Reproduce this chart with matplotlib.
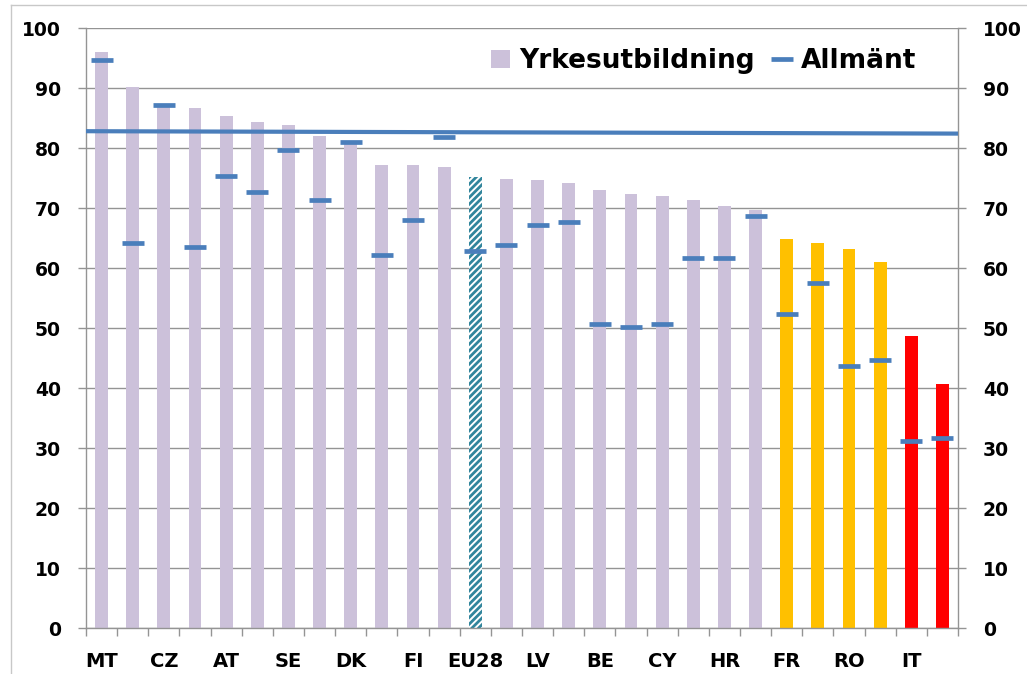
import matplotlib
matplotlib.use("Agg")
import matplotlib.pyplot as plt
from matplotlib.lines import Line2D
import numpy as np

# ---- data ----
categories = ["MT", "", "CZ", "", "AT", "", "SE", "", "DK", "", "FI", "", "EU28", "",
              "LV", "", "BE", "", "CY", "", "HR", "", "FR", "", "RO", "", "IT", ""]
yrkes = [96.0, 90.1, 87.0, 86.6, 85.4, 84.4, 83.9, 82.0, 81.0, 77.1, 77.1, 76.9, 75.2, 74.8,
         74.7, 74.2, 73.0, 72.3, 72.0, 71.4, 70.3, 69.7, 64.8, 64.2, 63.2, 61.0, 48.7, 40.7]
allmant = [94.7, 64.2, 87.2, 63.5, 75.4, 72.7, 79.7, 71.3, 81.0, 62.2, 68.0, 81.9, 62.9, 63.9,
           67.2, 67.7, 50.7, 50.2, 50.7, 61.7, 61.7, 68.6, 52.3, 57.5, 43.7, 44.7, 31.2, 31.7]
benchmark = [82.8, 82.4]   # line value at left and right end
bar_groups = ["base"] * 12 + ["eu"] + ["base"] * 9 + ["mid"] * 4 + ["low"] * 2
y_ticks = [0, 10, 20, 30, 40, 50, 60, 70, 80, 90, 100]

group_colors = {"base": "#CCC1DA", "eu": "white", "mid": "#FFC000", "low": "#FF0000"}
line_blue = "#4A7EBB"
grid_gray = "#949494"

plt.rcParams["hatch.linewidth"] = 2.0

fig = plt.figure(figsize=(10.27, 6.74), dpi=100)
ax = fig.add_axes([86 / 1027, 1 - 628 / 674, (958 - 86) / 1027, (628 - 28) / 674])

x = np.arange(len(categories))
bars = ax.bar(x, yrkes, width=0.41, color=[group_colors[g] for g in bar_groups],
              linewidth=0, zorder=2, label="Yrkesutbildning")
for b, g in zip(bars, bar_groups):
    if g == "eu":
        b.set_hatch("/////")
        b.set_edgecolor("#31859C")
        b.set_linewidth(0)

ax.set_xlim(-0.5, len(categories) - 0.5)
ax.set_ylim(0, 100)

ax.plot(ax.get_xlim(), benchmark, color=line_blue, lw=3.0, zorder=3, solid_capstyle="butt")
marks, = ax.plot(x, allmant, linestyle="none", marker="_", markersize=16, markeredgewidth=3.4,
                 color=line_blue, zorder=4, label="Allmänt")

# grid
ax.set_yticks(y_ticks)
ax.yaxis.grid(True, color=grid_gray, lw=1.0, zorder=0)
ax.set_axisbelow(True)

for s in ["left", "right", "bottom"]:
    ax.spines[s].set_color(grid_gray)
    ax.spines[s].set_linewidth(1.0)
ax.spines["top"].set_visible(False)

tick_font = dict(family="DejaVu Sans", weight="bold", size=13.5)
ax.tick_params(axis="y", which="major", direction="out", length=6, width=1.0,
               color=grid_gray, left=True, right=True, labelleft=True, labelright=True,
               pad=12)
ax.set_yticklabels([str(v) for v in y_ticks], **tick_font)
for t in ax.yaxis.get_major_ticks():
    t.label2.set_fontfamily("DejaVu Sans")
    t.label2.set_fontweight("bold")
    t.label2.set_fontsize(13.5)
    t.label2.set_horizontalalignment("left")

# x axis: labels at every other category, tick marks at boundaries
label_idx = [i for i, c in enumerate(categories) if c]
ax.set_xticks(label_idx)
ax.set_xticklabels([categories[i] for i in label_idx], family="DejaVu Sans",
                   weight="bold", size=14)
ax.tick_params(axis="x", which="major", length=0, pad=17)
ax.set_xticks(np.arange(-0.5, len(categories), 1.0), minor=True)
ax.tick_params(axis="x", which="minor", direction="out", length=5.5, width=1.0,
               color=grid_gray)

leg = ax.legend(handles=[bars, marks], labels=["Yrkesutbildning", "Allmänt"],
                loc="upper right", bbox_to_anchor=(0.973, 0.997), ncol=2, frameon=False,
                prop=dict(family="DejaVu Sans", weight="bold", size=19),
                handlelength=0.7, handleheight=0.7, handletextpad=0.35,
                columnspacing=0.7, borderaxespad=0.3)

# figure border (cropped chart frame)
fig.add_artist(Line2D([11 / 1027, 11 / 1027], [0, 1 - 5 / 674], transform=fig.transFigure,
                      color="#C8C8C8", lw=1.0))
fig.add_artist(Line2D([11 / 1027, 1], [1 - 5 / 674, 1 - 5 / 674], transform=fig.transFigure,
                      color="#C8C8C8", lw=1.0))

fig.savefig("out.png", dpi=100)
